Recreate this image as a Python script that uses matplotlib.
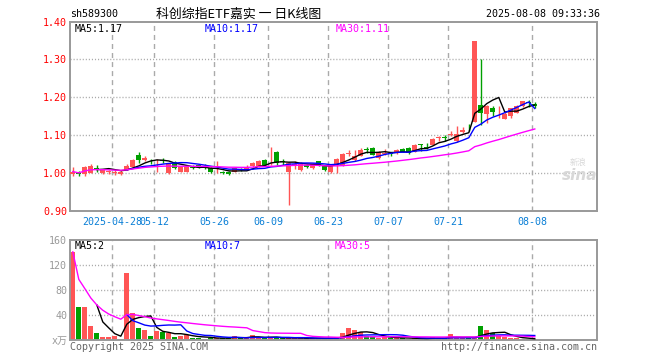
import numpy as np
import pandas as pd
import matplotlib
matplotlib.use('Agg')
import matplotlib.pyplot as plt

# daily K data, 2025-04-17 .. 2025-08-08 (index 0..77)
opens = [0.996, 1.002, 0.996, 1.000, 1.012, 0.999, 1.003, 0.998, 0.996, 1.008,
         1.015, 1.048, 1.034, 1.032, 1.030, 1.033, 0.999, 1.027, 1.003, 1.003,
         1.017, 1.021, 1.016, 1.012, 1.010, 1.001, 1.003, 1.003, 1.010, 1.010,
         1.017, 1.018, 1.034, 1.038, 1.056, 1.030, 1.001, 1.020, 1.006, 1.020,
         1.012, 1.030, 1.017, 1.003, 1.023, 1.021, 1.050, 1.034, 1.045, 1.061,
         1.065, 1.039, 1.050, 1.053, 1.052, 1.064, 1.065, 1.056, 1.075, 1.066,
         1.074, 1.091, 1.094, 1.101, 1.085, 1.107, 1.119, 1.135, 1.179, 1.156,
         1.172, 1.149, 1.143, 1.150, 1.159, 1.176, 1.187, 1.183]
closes = [1.003, 0.996, 1.015, 1.017, 1.010, 1.007, 1.005, 1.002, 1.003, 1.018,
          1.034, 1.033, 1.040, 1.030, 1.032, 1.030, 1.023, 1.012, 1.015, 1.016,
          1.013, 1.014, 1.014, 1.003, 1.012, 0.999, 0.996, 1.012, 1.006, 1.012,
          1.025, 1.030, 1.021, 1.040, 1.025, 1.028, 1.025, 1.022, 1.025, 1.016,
          1.022, 1.021, 1.008, 1.021, 1.036, 1.050, 1.053, 1.045, 1.061, 1.060,
          1.048, 1.056, 1.053, 1.050, 1.061, 1.056, 1.052, 1.074, 1.074, 1.065,
          1.089, 1.094, 1.092, 1.103, 1.103, 1.114, 1.117, 1.349, 1.158, 1.176,
          1.161, 1.151, 1.156, 1.170, 1.176, 1.189, 1.185, 1.176]
highs = [1.015, 1.004, 1.018, 1.024, 1.020, 1.010, 1.008, 1.006, 1.006, 1.024,
         1.036, 1.054, 1.043, 1.036, 1.036, 1.038, 1.025, 1.030, 1.018, 1.019,
         1.020, 1.023, 1.024, 1.014, 1.032, 1.004, 1.004, 1.016, 1.012, 1.020,
         1.028, 1.034, 1.035, 1.069, 1.058, 1.036, 1.028, 1.030, 1.028, 1.022,
         1.025, 1.032, 1.019, 1.023, 1.038, 1.053, 1.059, 1.061, 1.066, 1.068,
         1.068, 1.058, 1.063, 1.055, 1.063, 1.066, 1.069, 1.076, 1.076, 1.078,
         1.091, 1.098, 1.101, 1.110, 1.123, 1.120, 1.130, 1.349, 1.302, 1.180,
         1.176, 1.176, 1.161, 1.172, 1.178, 1.191, 1.193, 1.186]
lows = [0.992, 0.990, 0.992, 0.998, 1.003, 0.997, 0.997, 0.995, 0.994, 1.006,
        1.012, 1.025, 1.030, 1.024, 1.002, 1.025, 0.997, 1.009, 1.001, 1.001,
        1.010, 1.012, 1.009, 1.000, 0.999, 0.996, 0.994, 1.001, 1.004, 1.008,
        1.015, 1.016, 1.018, 1.020, 1.020, 1.020, 0.915, 1.010, 1.004, 1.013,
        1.010, 1.019, 1.005, 0.998, 0.998, 1.019, 1.043, 1.032, 1.043, 1.052,
        1.046, 1.037, 1.048, 1.045, 1.050, 1.054, 1.050, 1.054, 1.057, 1.062,
        1.072, 1.083, 1.085, 1.096, 1.082, 1.105, 1.110, 1.135, 1.127, 1.132,
        1.150, 1.145, 1.141, 1.145, 1.157, 1.174, 1.174, 1.172]
volumes = [141, 53, 53, 22, 11.5, 5, 5, 7, 2, 107,
           44, 19, 16, 6.5, 15, 13, 10.5, 5.5, 6.5, 8,
           3.5, 4, 2, 4, 2.5, 2.5, 4, 7, 2.5, 3,
           8.5, 4, 3, 4, 4, 2.5, 3, 3, 3, 2.5,
           3, 2.5, 2.5, 3, 4.5, 10.5, 19, 16, 13.5, 6,
           5, 3, 5, 3, 3, 3, 2, 3, 2, 2,
           4.5, 3, 3, 9, 3, 3, 3, 3, 23, 16,
           12, 6, 5, 3, 2.5, 2, 2, 0.5]

date_ticks = [7, 14, 24, 33, 43, 53, 63, 77]
date_labels = ['2025-04-28', '05-12', '05-26', '06-09', '06-23', '07-07', '07-21', '08-08']
price_ticks = [0.90, 1.00, 1.10, 1.20, 1.30, 1.40]
vol_ticks = [0, 40, 80, 120, 160]
vol_labels = ['x万', '40', '80', '120', '160']

code = 'sh589300'
title = '科创综指ETF嘉实 一 日K线图'
stamp = '2025-08-08 09:33:36'
price_ma_text = ['MA5:1.17', 'MA10:1.17', 'MA30:1.11']
vol_ma_text = ['MA5:2', 'MA10:7', 'MA30:5']

RED = '#ff5555'
GREEN = '#00a000'
MA_COLORS = ['black', '#0000ff', '#ff00ff']
GRID = '#aaaaaa'
MONO = 'DejaVu Sans Mono'

W, H = 660, 360
L, R = 70, 597


def fx(px):
    return px / W


def fy(py):
    return 1 - py / H


def moving_averages(values):
    s = pd.Series(values, dtype=float)
    return [s.rolling(5).mean(), s.rolling(10).mean(), s.rolling(30, min_periods=1).mean()]


def style_axes(ax):
    for sp in ax.spines.values():
        sp.set_color('#999999')
        sp.set_linewidth(1.4)
    ax.set_xlim((L - 72.8) / 6.0, (R - 72.8) / 6.0)
    for t in date_ticks:
        ax.axvline(t - 0.42, color=GRID, lw=1.0, linestyle=(0, (3.6, 2.9)), zorder=0)


def main():
    plt.rcParams['lines.scale_dashes'] = False
    fig = plt.figure(figsize=(W / 100, H / 100), dpi=100)
    idx = np.arange(len(closes))
    up = [c >= o for o, c in zip(opens, closes)]
    colors = [RED if u else GREEN for u in up]

    # price panel
    ax = fig.add_axes([fx(L), fy(210.5), fx(R - L), (210.5 - 21.5) / H])
    style_axes(ax)
    ax.set_ylim(0.90, 1.40)
    for p in price_ticks[1:-1]:
        ax.axhline(p, color=GRID, lw=1.0, linestyle=(0, (0.8, 1.4)), zorder=0)
    ax.vlines(idx, lows, highs, colors=colors, lw=1.0, zorder=2)
    body = [max(abs(c - o), 0.0022) for o, c in zip(opens, closes)]
    bottom = [min(o, c) for o, c in zip(opens, closes)]
    ax.bar(idx, body, bottom=bottom, width=0.78, color=colors, zorder=3)
    for ma, col in zip(moving_averages(closes), MA_COLORS):
        ax.plot(idx, ma, color=col, lw=1.0, zorder=4)
    ax.set_yticks(price_ticks)
    ax.set_yticklabels([f'{p:.2f}' for p in price_ticks], family=MONO, fontsize=7.2, color='red')
    ax.set_xticks([t - 0.42 for t in date_ticks])
    ax.set_xticklabels(date_labels, family=MONO, fontsize=7.2, color='#0a7fd6')
    ax.tick_params(length=0, pad=2)
    ax.tick_params(axis='x', pad=5)

    # volume panel
    av = fig.add_axes([fx(L), fy(340), fx(R - L), 100 / H])
    style_axes(av)
    av.set_ylim(0, 160)
    for v in vol_ticks[1:-1]:
        av.axhline(v, color=GRID, lw=1.0, linestyle=(0, (0.8, 1.4)), zorder=0)
    av.bar(idx, volumes, width=0.8, color=colors, zorder=2)
    for ma, col in zip(moving_averages(volumes), MA_COLORS):
        av.plot(idx, ma, color=col, lw=1.0, zorder=3)
    av.set_yticks(vol_ticks)
    av.set_yticklabels(vol_labels, family=['DejaVu Sans Mono', 'Noto Sans CJK SC'],
                       fontsize=7.2, color='#999999')
    av.set_xticks([])
    av.tick_params(length=0, pad=2)

    # MA legends
    for txt, col, x in zip(price_ma_text, MA_COLORS, [75, 205, 336]):
        fig.text(fx(x), fy(29), txt, color=col, family=MONO, fontsize=7.2, va='center')
    for txt, col, x in zip(vol_ma_text, MA_COLORS, [75, 205, 335]):
        fig.text(fx(x), fy(246), txt, color=col, family=MONO, fontsize=7.2, va='center')

    # header
    fig.text(fx(70), fy(14), code, family=MONO, fontsize=7.2, va='center')
    fig.text(fx(239), fy(14), title, family=['Noto Sans CJK SC', 'DejaVu Sans'],
             fontsize=9.3, ha='center', va='center')
    fig.text(fx(600), fy(14), stamp, family=MONO, fontsize=7.2, ha='right', va='center')

    # footer
    fig.text(fx(70), fy(347), 'Copyright 2025 SINA.COM', family=MONO, fontsize=7.2,
             color='#666666', va='center')
    fig.text(fx(597), fy(347), 'http://finance.sina.com.cn', family=MONO, fontsize=7.2,
             color='#666666', ha='right', va='center')

    # watermark
    fig.text(fx(580), fy(176), 'sina', fontsize=11, style='italic', weight='bold',
             color='#d8d8d8', ha='center', va='center')
    fig.text(fx(578), fy(162), '新浪', family=['Noto Sans CJK SC'], fontsize=6,
             color='#d8d8d8', ha='center', va='center')

    fig.savefig('out.png', dpi=100)


if __name__ == '__main__':
    main()
